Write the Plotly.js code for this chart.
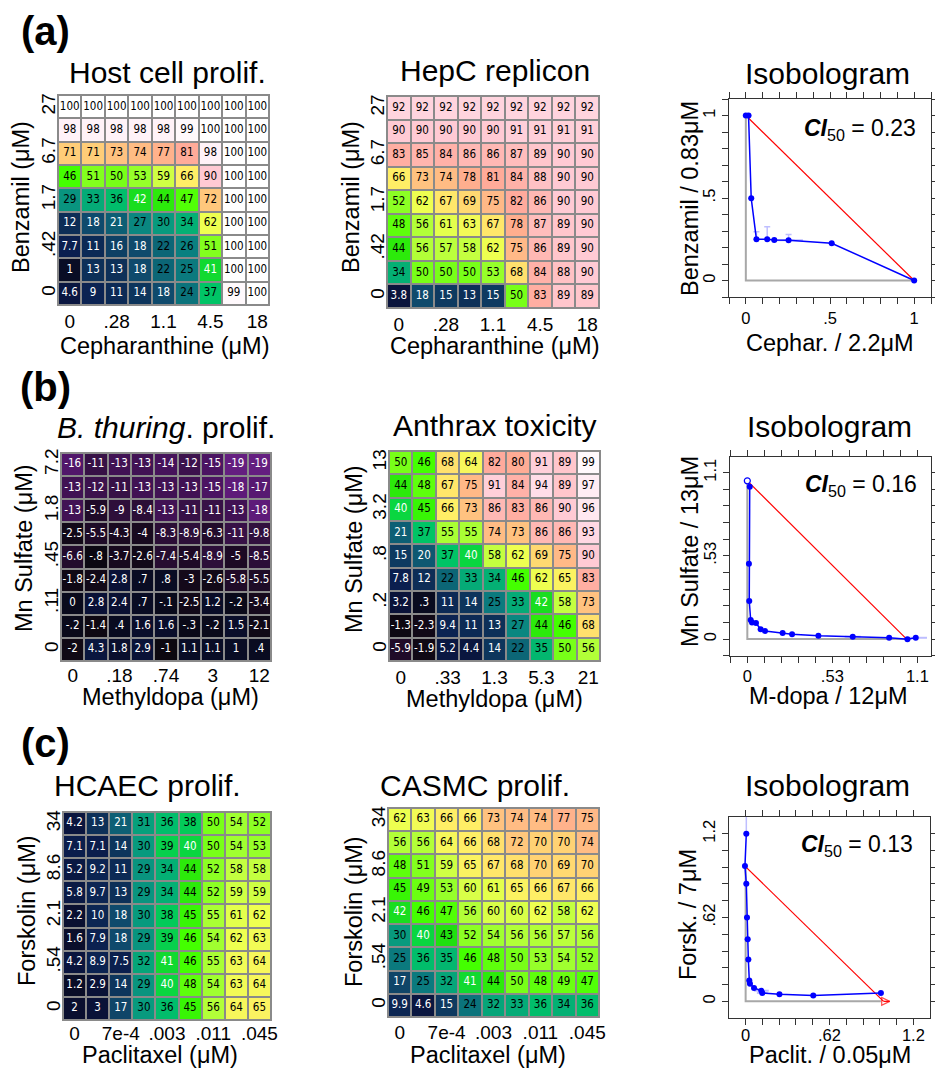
<!DOCTYPE html>
<html><head><meta charset="utf-8">
<script src="https://cdn.plot.ly/plotly-3.0.1.min.js"></script>
<style>html,body{margin:0;padding:0;background:#fff}#chart{width:935px;height:1070px}</style>
</head><body><div id="chart"></div>
<script>
// ---------- DATA ----------
// heatmap rows listed top row first (highest y dose) to bottom row (dose 0)
const hostCell = [
 [100,100,100,100,100,100,100,100,100],
 [98,98,98,98,98,99,100,100,100],
 [71,71,73,74,77,81,98,100,100],
 [46,51,50,53,59,66,90,100,100],
 [29,33,36,42,44,47,72,100,100],
 [12,18,21,27,30,34,62,100,100],
 [7.7,11,16,18,22,26,51,100,100],
 [1,13,13,18,22,25,41,100,100],
 [4.6,9,11,14,18,24,37,99,100]];
const hepC = [
 [92,92,92,92,92,92,92,92,92],
 [90,90,90,90,90,91,91,91,91],
 [83,85,84,86,86,87,89,90,90],
 [66,73,74,78,81,84,88,90,90],
 [52,62,67,69,75,82,86,90,90],
 [48,56,61,63,67,78,87,89,90],
 [44,56,57,58,62,75,86,89,90],
 [34,50,50,50,53,68,84,88,90],
 [3.8,18,15,13,15,50,83,89,89]];
const bThuring = [
 [-16,-11,-13,-13,-14,-12,-15,-19,-19],
 [-13,-12,-11,-13,-13,-13,-15,-18,-17],
 [-13,-5.9,-9,-8.4,-13,-11,-11,-13,-18],
 [-2.5,-5.5,-4.3,-4,-8.3,-8.9,-6.3,-11,-9.8],
 [-6.6,-0.8,-3.7,-2.6,-7.4,-5.4,-8.9,-5,-8.5],
 [-1.8,-2.4,2.8,0.7,0.8,-3,-2.6,-5.8,-5.5],
 [0,2.8,2.4,0.7,-0.1,-2.5,1.2,-0.2,-3.4],
 [-0.2,-1.4,0.4,1.6,1.6,-0.3,-0.2,1.5,-2.1],
 [-2,4.3,1.8,2.9,-1,1.1,1.1,1,0.4]];
const anthrax = [
 [50,46,68,64,82,80,91,89,99],
 [44,48,67,75,91,84,94,89,97],
 [40,45,66,73,86,83,86,90,96],
 [21,37,55,55,74,73,86,86,93],
 [15,20,37,40,58,62,69,75,90],
 [7.8,12,22,33,34,46,62,65,83],
 [3.2,0.3,11,14,25,33,42,58,73],
 [-1.3,-2.3,9.4,11,13,27,44,46,68],
 [-5.9,-1.9,5.2,4.4,14,22,35,50,56]];
const hcaec = [
 [4.2,13,21,31,36,38,50,54,52],
 [7.1,7.1,14,30,39,40,50,54,53],
 [5.2,9.2,11,29,34,44,52,58,58],
 [5.8,9.7,13,29,34,44,52,59,59],
 [2.2,10,18,30,38,45,55,61,62],
 [1.6,7.9,18,29,39,46,54,62,63],
 [4.2,8.9,7.5,32,41,46,55,63,64],
 [1.2,2.9,14,29,40,48,54,63,64],
 [2,3,17,30,36,45,56,64,65]];
const casmc = [
 [62,63,66,66,73,74,74,77,75],
 [56,56,64,66,68,72,70,70,74],
 [48,51,59,65,67,68,70,69,70],
 [45,49,53,60,61,65,66,67,66],
 [42,46,47,56,60,60,62,58,62],
 [30,40,43,52,54,56,56,57,56],
 [25,36,35,46,48,50,53,54,52],
 [17,25,32,41,44,50,48,49,47],
 [9.9,4.6,15,24,32,33,36,34,36]];

// tick labels
const cephTicks = ['0','.28','1.1','4.5','18'];
const benzTicks = ['0','.42','1.7','6.7','27'];
const mdopaTicksB1 = ['0','.18','.74','3','12'];
const mnTicksB1 = ['0','.11','.45','1.8','7.2'];
const mdopaTicksB2 = ['0','.33','1.3','5.3','21'];
const mnTicksB2 = ['0','.2','.8','3.2','13'];
const paclTicks = ['0','7e-4','.003','.011','.045'];
const forskTicks = ['0','.54','2.1','8.6','34'];

// isobologram (a)
const isoA_x = [0,0.016,0.032,0.063,0.127,0.169,0.254,0.51,1];
const isoA_y = [1,1,0.498,0.25,0.25,0.246,0.244,0.226,0];
const isoA_errY = [0,0,0,0.045,0.075,0,0.035,0,0];
const isoA_errX = [0,0,0,0,0,0,0.085,0,0];
const isoA_ci = '0.23';
// isobologram (b)
const isoB_x = [0.015,0.01,0.012,0.021,0.029,0.054,0.083,0.11,0.22,0.279,0.443,0.657,0.884,0.998,1.05];
const isoB_y = [0.97,0.48,0.242,0.121,0.106,0.102,0.062,0.051,0.038,0.030,0.021,0.015,0.008,-0.002,0.008];
const isoB_errX = [0,0,0,0,0,0,0,0,0,0,0,0.05,0,0,0.07];
const isoB_open = {x:[0], y:[1.008]};
const isoB_ci = '0.16';
// isobologram (c)
const isoC_x = [0.005,-0.005,0.005,0.01,0.015,0.02,0.027,0.032,0.062,0.116,0.123,0.25,0.50,1.0];
const isoC_y = [1.24,1.0,0.87,0.62,0.46,0.31,0.155,0.13,0.099,0.079,0.062,0.052,0.044,0.062];
const isoC_errY = [0.2,0,0,0,0,0,0,0,0,0,0,0,0,0];
const isoC_errX = [0,0,0,0,0,0,0,0,0,0.055,0.04,0,0,0];
const isoC_ci = '0.13';

// ---------- STYLE ----------
const FONT = 'Liberation Sans, Arial, sans-serif';
const CELLFONT = 'Liberation Sans Narrow, Arial Narrow, DejaVu Sans Condensed, sans-serif';
const ZMIN = -20, ZMAX = 100;
const stops = [
 [-20,'#6a2088'],[-15,'#4b1462'],[-10,'#32103f'],[-5,'#1c0a24'],[-1,'#0c0810'],
 [0,'#090a1c'],[3,'#0a1238'],[8,'#0b2050'],[13,'#0d3058'],[18,'#0f4a6c'],
 [22,'#0c6676'],[26,'#0a8080'],[30,'#089a7e'],[34,'#04b074'],[37,'#00c466'],
 [40,'#0ad640'],[43,'#20e010'],[46,'#44ff00'],[50,'#78ff18'],[54,'#a0ff30'],
 [58,'#c4ff40'],[62,'#eeff50'],[66,'#ffee66'],[70,'#ffd274'],[74,'#ffbc84'],
 [78,'#ffae8e'],[82,'#ffaa9c'],[86,'#ffb8b4'],[90,'#ffcad4'],[94,'#ffdde8'],
 [98,'#fff2f8'],[100,'#ffffff']];
const colorscale = stops.map(s => [(s[0]-ZMIN)/(ZMAX-ZMIN), s[1]]);

const W = 935, H = 1070;
const px = v => v / W;
const py = v => 1 - v / H;
const dx = (a,b) => [px(a), px(b)];
const dy = (top,bottom) => [py(bottom), py(top)];

function fmt(v){
  if (v === 0) return '0';
  return String(v).replace(/^(-?)0\./, '$1.');
}
function textColor(v){
  return (v < 21.5 || (v >= 39.5 && v <= 42.5)) ? '#ffffff' : '#000000';
}

const traces = [];
const shapes = [];
function addHeat(rows, n){
  const xa = 'x' + n, ya = 'y' + n;
  const z = rows.slice().reverse();
  traces.push({type:'heatmap', z:z, xaxis:xa, yaxis:ya, zmin:ZMIN, zmax:ZMAX,
    colorscale:colorscale, showscale:false, xgap:2, ygap:2, hoverinfo:'skip'});
  const xs=[], ys=[], ts=[], cs=[];
  z.forEach((row, j) => row.forEach((v, i) => {
    xs.push(i); ys.push(j); ts.push(fmt(v)); cs.push(textColor(v));
  }));
  traces.push({type:'scatter', mode:'text', x:xs, y:ys, text:ts, xaxis:xa, yaxis:ya,
    textfont:{family:CELLFONT, size:11.5, color:cs}, hoverinfo:'skip', showlegend:false});
  shapes.push({type:'rect', xref:xa, yref:ya, x0:-0.5, x1:8.5, y0:-0.5, y1:8.5,
    fillcolor:'#8a8a8a', line:{width:0}, layer:'below'});
}
function addIso(n, bx, by, errX, errY, redX, redY, grayX, grayY){
  const xa = 'x' + n, ya = 'y' + n;
  traces.push({type:'scatter', mode:'lines', x:grayX, y:grayY, xaxis:xa, yaxis:ya,
    line:{color:'#a8a8a8', width:2}, hoverinfo:'skip', showlegend:false});
  traces.push({type:'scatter', mode:'lines', x:redX, y:redY, xaxis:xa, yaxis:ya,
    line:{color:'#ff0000', width:1.2}, hoverinfo:'skip', showlegend:false});
  const t = {type:'scatter', mode:'lines+markers', x:bx, y:by, xaxis:xa, yaxis:ya,
    line:{color:'#0000ff', width:1.5}, marker:{color:'#0000ff', size:6},
    hoverinfo:'skip', showlegend:false};
  if (errY) t.error_y = {type:'data', array:errY, arrayminus:errY.map(()=>0), color:'rgba(110,110,255,0.45)', thickness:1.5, width:3};
  if (errX) t.error_x = {type:'data', array:errX, arrayminus:errX, color:'rgba(110,110,255,0.45)', thickness:2, width:0};
  traces.push(t);
}

addHeat(hostCell, 1);
addHeat(hepC, 2);
addIso(3, isoA_x, isoA_y, isoA_errX, isoA_errY, [0,1], [1,0], [0,0,1], [1,0,0]);
addHeat(bThuring, 4);
addHeat(anthrax, 5);
addIso(6, isoB_x, isoB_y, isoB_errX, null, [isoB_open.x[0], 0.99], [isoB_open.y[0], 0.003], [0,0,1], [1,0,0]);
traces.push({type:'scatter', mode:'markers', x:isoB_open.x, y:isoB_open.y, xaxis:'x6', yaxis:'y6',
  marker:{color:'#ffffff', size:6, line:{color:'#0000ff', width:1.2}}, hoverinfo:'skip', showlegend:false});
addHeat(hcaec, 7);
addHeat(casmc, 8);
addIso(9, isoC_x, isoC_y, isoC_errX, isoC_errY, [-0.005,1.02], [1.0,0], [0,0,1], [1,0,0]);
// red arrow tip on (c) isobologram
traces.push({type:'scatter', mode:'lines+markers', x:[1.02,1.065], y:[0,0], xaxis:'x9', yaxis:'y9',
  line:{color:'#ff0000', width:1.2}, marker:{symbol:['circle','arrow-right-open'], size:[0,8], color:'#ff0000',
  line:{color:'#ff0000', width:1.2}}, hoverinfo:'skip', showlegend:false});

// ---------- LAYOUT ----------
const layout = {width:W, height:H, margin:{l:0,r:0,t:0,b:0}, paper_bgcolor:'#fff', plot_bgcolor:'#fff',
  showlegend:false, font:{family:FONT, color:'#000'}, shapes:shapes, annotations:[]};

function hmAxes(n, xd, yd, xt, yt, xso){
  const common = {range:[-0.5,8.5], tickmode:'array', tickvals:[0,2,4,6,8], showgrid:false, zeroline:false,
    showline:true, linecolor:'#8a8a8a', linewidth:1, mirror:true, fixedrange:true, ticks:'', ticklen:0,
    tickfont:{family:FONT, size:19, color:'#000'}};
  layout['xaxis'+(n===1?'':n)] = Object.assign({}, common, {domain:xd, anchor:'y'+n, ticktext:xt, ticklabelstandoff:xso});
  layout['yaxis'+(n===1?'':n)] = Object.assign({}, common, {domain:yd, anchor:'x'+n, ticktext:yt,
    tickangle:-90, ticklabelstandoff:-6});
}
function isoAxes(n, xd, yd, xr, yr, tv, tt, mdt, xso){
  const common = {tickmode:'array', tickvals:tv, ticktext:tt, ticks:'outside', ticklen:6, tickwidth:1, tickcolor:'#333',
    minor:{tickmode:'linear', tick0:0, dtick:mdt, ticks:'outside', ticklen:6, tickwidth:1, tickcolor:'#333', showgrid:false},
    showline:true, linecolor:'#333', linewidth:1, mirror:'allticks', showgrid:false, zeroline:false, fixedrange:true,
    tickfont:{family:FONT, size:16.5, color:'#000'}};
  layout['xaxis'+n] = Object.assign({}, common, {domain:xd, range:xr, anchor:'y'+n, ticklabelstandoff:xso});
  layout['yaxis'+n] = Object.assign({}, common, {domain:yd, range:yr, anchor:'x'+n, tickangle:-90});
}

hmAxes(1, dx(58,269), dy(95,305), cephTicks, benzTicks, -1);
hmAxes(2, dx(387,599), dy(96,308), cephTicks, benzTicks, -1);
isoAxes(3, dx(729,931), dy(99,297), [-0.1,1.1], [-0.1,1.1], [0,0.5,1], ['0','.5','1'], 0.1, 0);
hmAxes(4, dx(61,271), dy(453,661), mdopaTicksB1, mnTicksB1, -3);
hmAxes(5, dx(389,600), dy(451,661), mdopaTicksB2, mnTicksB2, -1);
isoAxes(6, dx(730,931), dy(457,656), [-0.108,1.145], [-0.108,1.16], [0,0.53,1.06], ['0','.53','1.1'], 0.106, -1);
hmAxes(7, dx(63,271), dy(812,1020), paclTicks, forskTicks, -4);
hmAxes(8, dx(388,599), dy(808,1017), paclTicks, forskTicks, -2);
isoAxes(9, dx(729,930), dy(817,1018), [-0.123,1.363], [-0.123,1.363], [0,0.62,1.24], ['0','.62','1.2'], 0.124, -4);

function ann(text, x, y, size, opts){
  layout.annotations.push(Object.assign({text:text, x:px(x), y:py(y), xref:'paper', yref:'paper',
    showarrow:false, xanchor:'center', yanchor:'middle', font:{family:FONT, size:size, color:'#000'}}, opts||{}));
}
// panel labels
ann('<b>(a)</b>', 45, 31, 40);
ann('<b>(b)</b>', 45, 387, 40);
ann('<b>(c)</b>', 45, 743, 40);
// titles
ann('Host cell prolif.', 167, 72, 30);
ann('HepC replicon', 495, 70, 30);
ann('Isobologram', 827, 73, 30);
ann('<i>B. thuring</i>. prolif.', 166, 427, 30);
ann('Anthrax toxicity', 494, 425, 30);
ann('Isobologram', 829, 426, 30);
ann('HCAEC prolif.', 147, 785, 30);
ann('CASMC prolif.', 475, 785, 30);
ann('Isobologram', 827, 785, 30);
// axis titles
const AT = 23.5;
ann('Cepharanthine (μM)', 164, 346, AT);
ann('Benzamil (μM)', 21, 197, AT, {textangle:-90});
ann('Cepharanthine (μM)', 494, 346, AT);
ann('Benzamil (μM)', 351, 197, AT, {textangle:-90});
ann('Cephar. / 2.2μM', 830, 343, AT);
ann('Benzamil / 0.83μM', 690, 199, AT, {textangle:-90});
ann('Methyldopa (μM)', 170, 697, AT);
ann('Mn Sulfate (μM)', 24, 548, AT, {textangle:-90});
ann('Methyldopa (μM)', 494, 699, AT);
ann('Mn Sulfate (μM)', 354, 549, AT, {textangle:-90});
ann('M-dopa / 12μM', 828, 696, AT);
ann('Mn Sulfate / 13μM', 690, 552, AT, {textangle:-90});
ann('Paclitaxel (μM)', 160, 1055, AT);
ann('Forskolin (μM)', 27, 911, AT, {textangle:-90});
ann('Paclitaxel (μM)', 488, 1055, AT);
ann('Forskolin (μM)', 354, 912, AT, {textangle:-90});
ann('Paclit. / 0.05μM', 830, 1055, AT);
ann('Forsk. / 7μM', 688, 915, AT, {textangle:-90});
// CI50
const ciText = v => '<b><i>CI</i></b><sub>50</sub> = ' + v;
ann(ciText(isoA_ci), 918, 129, 23, {xanchor:'right'});
ann(ciText(isoB_ci), 919, 485, 23, {xanchor:'right'});
ann(ciText(isoC_ci), 915, 845, 23, {xanchor:'right'});

Plotly.newPlot('chart', traces, layout, {staticPlot:true, displayModeBar:false});
</script></body></html>
